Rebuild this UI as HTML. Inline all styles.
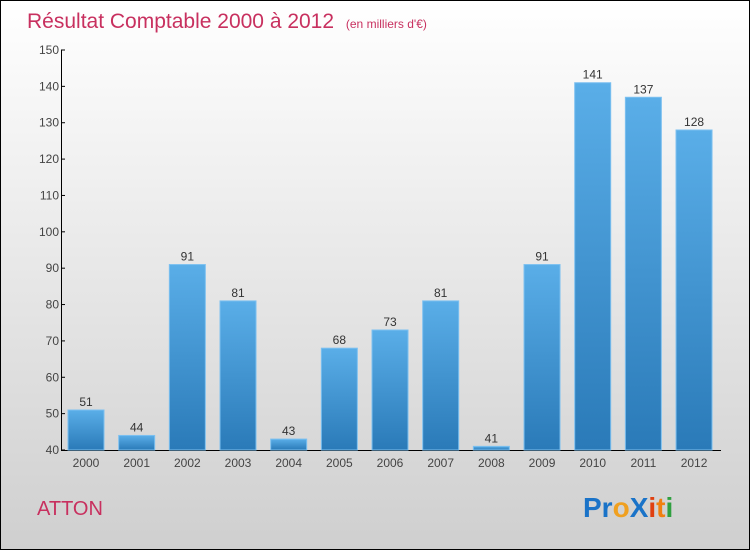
<!DOCTYPE html>
<html><head><meta charset="utf-8"><style>
body{margin:0}
#c{position:relative;width:748px;height:548px;border:1px solid #000;background:linear-gradient(#fff,#cfcfcf);font-family:"Liberation Sans",sans-serif;overflow:hidden}
</style></head><body>
<div id="c">
<svg width="748" height="548">
<defs><linearGradient id="g" x1="0" y1="0" x2="0" y2="1"><stop offset="0" stop-color="#5aaee8"/><stop offset="1" stop-color="#2a7ab8"/></linearGradient></defs>
<text x="26" y="27" font-size="21" fill="#c8305f">Résultat Comptable 2000 à 2012 <tspan font-size="12" dx="6">(en milliers d'€)</tspan></text>
<g id="axes"></g><g id="bars"></g>
<text x="36" y="514" font-size="20" fill="#c8305f">ATTON</text>
<g font-size="28" font-weight="bold">
<text x="582" y="516"><tspan fill="#1a73c8">Pr</tspan><tspan fill="#f0a020">o</tspan><tspan fill="#1a73c8">X</tspan><tspan fill="#e04010">i</tspan><tspan fill="#f08010">t</tspan><tspan fill="#30a040">i</tspan></text></g>
</svg></div>
<script>
const categories=["2000","2001","2002","2003","2004","2005","2006","2007","2008","2009","2010","2011","2012"];
const values=[51,44,91,81,43,68,73,81,41,91,141,137,128];
const ticks=[40,50,60,70,80,90,100,110,120,130,140,150];
const NS="http://www.w3.org/2000/svg";
const y=v=>449-(v-40)*400/110, x=i=>85+i*50.67;
function mk(t,a,p){const e=document.createElementNS(NS,t);for(const k in a)e.setAttribute(k,a[k]);p.appendChild(e);return e;}
const ax=document.getElementById('axes'),bs=document.getElementById('bars');
const yl=mk('line',{x1:60.5,y1:49,x2:60.5,y2:449.5,stroke:'#000'},ax);


const xl=mk('line',{x1:60,y1:449.5,x2:720,y2:449.5,stroke:'#000'},ax);


ticks.forEach(t=>{mk('line',{x1:60,x2:64,y1:y(t),y2:y(t),stroke:'#000'},ax);
const tx=mk('text',{x:58,y:y(t)+4,'font-size':12,fill:'#444','text-anchor':'end'},ax);tx.textContent=t;

});
categories.forEach((c,i)=>{
const r=mk('rect',{x:x(i)-18,y:y(values[i]),width:36,height:449-y(values[i]),fill:'url(#g)',stroke:'#7cc0f0','stroke-width':1},bs);


const v=mk('text',{x:x(i),y:y(values[i])-4,'font-size':12,fill:'#333','text-anchor':'middle'},bs);v.textContent=values[i];


const l=mk('text',{x:x(i),y:466,'font-size':12,fill:'#444','text-anchor':'middle'},bs);l.textContent=c;


});
</script></body></html>
